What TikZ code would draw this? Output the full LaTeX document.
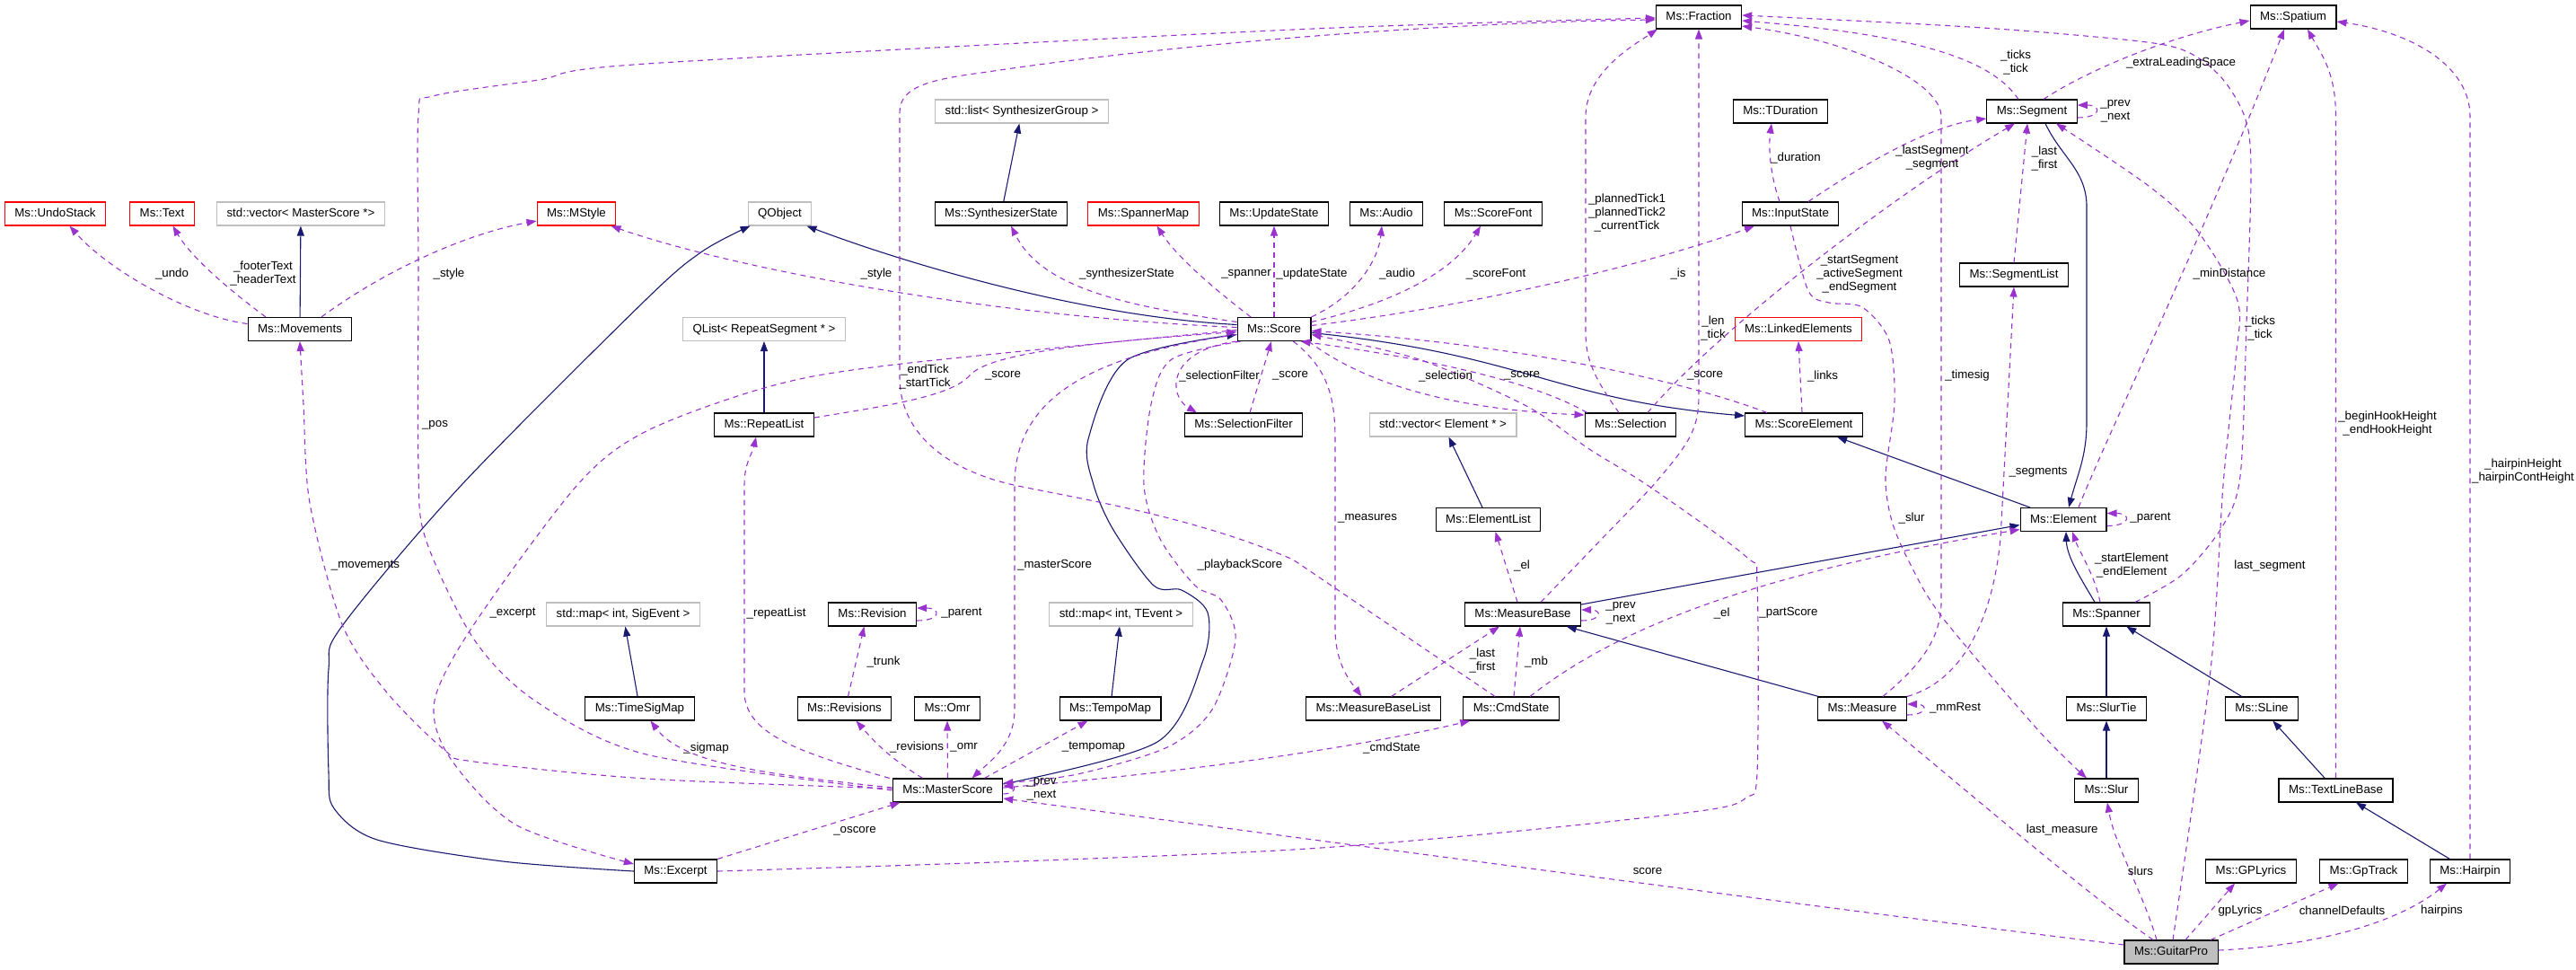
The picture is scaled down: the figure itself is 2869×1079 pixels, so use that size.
\documentclass[tikz,border=0pt]{standalone}
\usepackage{fontspec}
\setmainfont{Liberation Sans}
\usetikzlibrary{arrows.meta}
\definecolor{usecol}{HTML}{9A32CD}
\definecolor{inhcol}{HTML}{191970}
\definecolor{extcol}{HTML}{BFBFBF}
\tikzstyle{cls} = [rectangle, draw, line width=1.1pt, inner xsep=11pt, inner ysep=0pt, minimum height=26pt, text height=10pt, text depth=3pt, font=\fontsize{13.3}{15}\selectfont]
\tikzstyle{ext} = [cls, draw=extcol]
\tikzstyle{trunc} = [cls, draw=red]
\tikzstyle{uses} = [draw, usecol, line width=1.1pt, dash pattern=on 6pt off 5pt, -{Triangle[length=11pt,width=8pt]}]
\tikzstyle{inherit} = [draw, inhcol, line width=1.1pt, -{Triangle[length=11pt,width=8pt]}]
\tikzstyle{lbl} = [inner sep=0pt, align=center, font=\fontsize{13.3}{15}\selectfont]

\begin{document}
\begin{tikzpicture}[x=1pt, y=-1pt]
    \useasboundingbox (0,0) rectangle (2869,1079);
    \node[trunc] (undo) at (61.5,238) {Ms::UndoStack};
    \node[trunc] (text) at (180.5,238) {Ms::Text};
    \node[ext] (vecms) at (335,238) {std::vector< MasterScore *>};
    \node[trunc] (mstyle) at (642,238) {Ms::MStyle};
    \node[cls] (movements) at (334,366.5) {Ms::Movements};
    \node[ext] (qobject) at (868.5,238) {QObject};
    \node[ext] (synthlist) at (1138,124) {std::list< SynthesizerGroup >};
    \node[cls] (synthstate) at (1115,238) {Ms::SynthesizerState};
    \node[trunc] (spmap) at (1273.5,238) {Ms::SpannerMap};
    \node[cls] (updstate) at (1419,238) {Ms::UpdateState};
    \node[cls] (audio) at (1544,238) {Ms::Audio};
    \node[cls] (scorefont) at (1663,238) {Ms::ScoreFont};
    \node[cls] (fraction) at (1892,19) {Ms::Fraction};
    \node[cls] (tduration) at (1983,124) {Ms::TDuration};
    \node[cls] (inputstate) at (1994,238) {Ms::InputState};
    \node[cls] (segment) at (2263,124) {Ms::Segment};
    \node[cls] (spatium) at (2554,19) {Ms::Spatium};
    \node[cls] (seglist) at (2243,306) {Ms::SegmentList};
    \node[ext] (qlist) at (851,366.5) {QList< RepeatSegment * >};
    \node[cls] (score) at (1419,366.5) {Ms::Score};
    \node[trunc] (linked) at (2003,366.5) {Ms::LinkedElements};
    \node[cls] (repeatlist) at (851,473) {Ms::RepeatList};
    \node[cls] (selfilter) at (1385,473) {Ms::SelectionFilter};
    \node[ext] (vecel) at (1607,473) {std::vector< Element * >};
    \node[cls] (selection) at (1816,473) {Ms::Selection};
    \node[cls] (scoreel) at (2009,473) {Ms::ScoreElement};
    \node[cls] (elemlist) at (1657.5,578.5) {Ms::ElementList};
    \node[cls] (element) at (2298,578.5) {Ms::Element};
    \node[ext] (sigmapx) at (694,684) {std::map< int, SigEvent >};
    \node[cls] (revision) at (971.5,684) {Ms::Revision};
    \node[ext] (tempomapx) at (1248.5,684) {std::map< int, TEvent >};
    \node[cls] (measurebase) at (1696,684) {Ms::MeasureBase};
    \node[cls] (spanner) at (2346,684) {Ms::Spanner};
    \node[cls] (timesig) at (712.5,789) {Ms::TimeSigMap};
    \node[cls] (revisions) at (940.5,789) {Ms::Revisions};
    \node[cls] (omr) at (1055,789) {Ms::Omr};
    \node[cls] (tempomap) at (1236.5,789) {Ms::TempoMap};
    \node[cls] (mbl) at (1529.5,789) {Ms::MeasureBaseList};
    \node[cls] (cmdstate) at (1683,789) {Ms::CmdState};
    \node[cls] (measure) at (2074,789) {Ms::Measure};
    \node[cls] (slurtie) at (2346,789) {Ms::SlurTie};
    \node[cls] (sline) at (2519,789) {Ms::SLine};
    \node[cls] (masterscore) at (1055.5,880) {Ms::MasterScore};
    \node[cls] (slur) at (2346,880) {Ms::Slur};
    \node[cls] (textline) at (2601.5,880) {Ms::TextLineBase};
    \node[cls] (excerpt) at (752.5,970) {Ms::Excerpt};
    \node[cls] (gplyrics) at (2507,970) {Ms::GPLyrics};
    \node[cls] (gptrack) at (2632.5,970) {Ms::GpTrack};
    \node[cls] (hairpin) at (2751,970) {Ms::Hairpin};
    \node[cls, fill=extcol] (guitarpro) at (2418,1060) {Ms::GuitarPro};

    \path[inherit] (movements) -- (vecms);
    \path[inherit] (synthstate) -- (synthlist);
    \path[inherit] (timesig) -- (sigmapx);
    \path[inherit] (tempomap) -- (tempomapx);
    \path[inherit] (repeatlist) -- (qlist);
    \path[inherit] (elemlist) -- (vecel);
    \path[inherit] (slurtie) -- (spanner);
    \path[inherit] (slur) -- (slurtie);
    \path[inherit] (sline) -- (spanner);
    \path[inherit] (textline) -- (sline);
    \path[inherit] (hairpin) -- (textline);
    \path[inherit] (measure) -- (measurebase);
    \path[inherit] ([yshift=11pt]measurebase.east) -- ([yshift=-6pt]element.west);
    \path[inherit] (element) -- (scoreel);
    \path[inherit] ([yshift=-4pt]score.east) .. controls (1700,395) and (1730,445) .. ([yshift=10pt]scoreel.west);
    \path[inherit] ([xshift=15pt]segment.south) to[out=-65,in=90] (2324,230) -- (2324,470) to[out=-90,in=75] ([xshift=6pt]element.north);
    \path[inherit] ([xshift=-13pt]spanner.north) .. controls (2318,645) and (2302,620) .. ([xshift=3pt]element.south);
    \path[inherit] ([yshift=5pt]score.west) .. controls (1200,352) and (1000,290) .. ([xshift=-6pt]qobject.south east);
    \path[inherit] plot[smooth] coordinates {([yshift=7pt]masterscore.east) (1289,826) (1340,735) (1345,682) (1316,657) (1285,652) (1240,590) (1218,540) (1212,489) (1255,401) ([yshift=-6pt]score.west)};
    \path[inherit] plot[smooth] coordinates {(excerpt.west) (560,959) (420,935) (372,900) (366,860) (366,745) (381,697) (514,540) (720,333) (782,280) ([xshift=3pt]qobject.south west)};

    \path[uses] ([yshift=6pt]movements.west) .. controls (210,352) and (120,300) .. ([xshift=16pt]undo.south);
    \path[uses] ([xshift=-38pt]movements.north) .. controls (265,330) and (215,290) .. ([xshift=12pt]text.south);
    \path[uses] ([xshift=24pt]movements.north) .. controls (430,300) and (520,260) .. ([yshift=-8pt]mstyle.west);
    \path[uses] ([yshift=2pt]score.west) .. controls (1100,352) and (820,300) .. ([xshift=-6pt]mstyle.south east);
    \path[uses] plot[smooth] coordinates {([yshift=2pt]masterscore.west) (720,867) (528,848) (495,835) (430,770) (381,695) (345,560) (338,450) (movements.south)};
    \path[uses] plot[smooth] coordinates {(masterscore.west) (720,840) (597,781) (528,712) (474,600) (466,520) (466,300) (466,128) (482,107) (600,89) (720,71) (1440,33) ([yshift=-1pt]fraction.west)};
    \path[uses] plot[smooth] coordinates {([yshift=-1pt]score.west) (996,406) (858,430) (720,480) (643,540) (528,695) (484,780) (500,842) (574,918) ([yshift=8pt]excerpt.west)};
    \path[uses] ([xshift=-3pt]masterscore.north west) .. controls (900,840) and (829,820) .. (829,770) -- (829,540) .. controls (829,515) and (838,505) .. ([xshift=-9pt]repeatlist.south);
    \path[uses] ([yshift=3pt]masterscore.west) .. controls (850,862) and (760,850) .. ([xshift=12pt]timesig.south);
    \path[uses] ([xshift=-28pt]masterscore.north) to[out=148,in=-49] ([xshift=13pt]revisions.south);
    \path[uses] (masterscore.north) -- (omr.south);
    \path[uses] ([xshift=41pt]masterscore.north) -- ([xshift=-25pt]tempomap.south);
    \path[uses] ([yshift=-6pt]score.west) .. controls (1220,395) and (1130,440) .. (1130,540) -- (1130,790) .. controls (1130,830) and (1100,850) .. ([xshift=27pt]masterscore.north);
    \path[uses] plot[smooth] coordinates {([xshift=4pt]score.south west) (1305,400) (1282,450) (1274,540) (1292,600) (1331,652) (1360,668) (1376,712) (1350,790) (1300,832) (1200,862) ([yshift=8pt]masterscore.east)};
    \path[uses] ([yshift=3pt]masterscore.east) .. controls (1300,862) and (1500,835) .. ([xshift=8pt]cmdstate.south west);
    \path[uses] ([yshift=8pt]guitarpro.west) .. controls (2100,1020) and (1500,940) .. ([yshift=-9pt]masterscore.east);
    \path[uses] (excerpt.north east) -- ([xshift=-53pt]masterscore.south);
    \path[uses] plot[smooth] coordinates {(excerpt.east) (1107,960) (1440,946) (1693,925) (1900,902) (1945,888) (1957,860) (1957,650) (1945,620) (1839,543) (1770,500) (1700,452) (1580,400) ([yshift=-6pt]score.east)};
    \path[uses] ([xshift=-20pt]score.south east) .. controls (1478,410) and (1487,440) .. (1487,490) -- (1487,700) .. controls (1487,740) and (1505,760) .. ([xshift=-13pt]mbl.north);
    \path[uses] (score.south west) .. controls (1300,390) and (1300,440) .. ([xshift=-52pt]selfilter.north);
    \path[uses] ([xshift=7pt]selfilter.north) -- ([xshift=-3pt]score.south);
    \path[uses] ([yshift=8pt]repeatlist.east) .. controls (1000,450) and (1060,440) .. (1080,418) .. controls (1100,395) and (1200,382) .. ([yshift=-3pt]score.west);
    \path[uses] ([xshift=-18pt]cmdstate.north) -- (1440,623) .. controls (1330,575) and (1200,555) .. (1129,540) .. controls (1050,522) and (1002,480) .. (1002,420) -- (1002,125) .. controls (1002,95) and (1040,88) .. (1100,80) .. controls (1300,50) and (1600,25) .. ([yshift=-3pt]fraction.west);
    \path[uses] ([xshift=20pt]measurebase.north) -- (1839,543) .. controls (1880,495) and (1892,480) .. (1892,440) -- (fraction.south);
    \path[uses] ([xshift=-13pt]selection.north) .. controls (1775,420) and (1766,400) .. (1766,370) -- (1766,130) .. controls (1766,80) and (1820,50) .. ([xshift=2pt]fraction.south west);
    \path[uses] ([xshift=-3pt]score.south east) .. controls (1510,420) and (1600,455) .. ([yshift=11pt]selection.west);
    \path[uses] ([xshift=3pt]selection.north west) .. controls (1700,420) and (1560,395) .. ([xshift=-12pt]score.south east);
    \path[uses] ([xshift=-41pt]scoreel.north) .. controls (1850,415) and (1650,380) .. ([yshift=-2pt]score.east);
    \path[uses] ([xshift=-2pt]scoreel.north) -- (linked.south);
    \path[uses] ([yshift=4pt]score.east) .. controls (1650,340) and (1850,290) .. ([xshift=-40pt]inputstate.south);
    \path[uses] ([yshift=8pt]score.east) .. controls (1560,335) and (1620,300) .. ([xshift=-14pt]scorefont.south);
    \path[uses] (score.north east) .. controls (1510,330) and (1535,290) .. ([xshift=-5pt]audio.south);
    \path[uses] (score.north) -- (updstate.south);
    \path[uses] ([xshift=-26pt]score.north) .. controls (1350,320) and (1310,285) .. ([xshift=15pt]spmap.south);
    \path[uses] ([yshift=8pt]score.west) .. controls (1250,340) and (1160,320) .. ([xshift=11pt]synthstate.south);
    \path[uses] ([xshift=-12pt]inputstate.north) .. controls (1970,190) and (1970,160) .. ([xshift=-10pt]tduration.south);
    \path[uses] ([xshift=20pt]inputstate.north) .. controls (2080,180) and (2150,140) .. ([yshift=-8pt]segment.west);
    \path[uses] ([xshift=19pt]selection.north) .. controls (1920,360) and (2120,210) .. ([xshift=-19pt]segment.south);
    \path[uses] plot[smooth] coordinates {(inputstate.south) (2014,324) (2037,337) (2074,342) (2104,379) (2110,448) (2100,530) (2107,580) (2127,627) (2163,687) (2270,813) ([xshift=-22pt]slur.north)};
    \path[uses] ([xshift=23pt]measure.north) .. controls (2140,740) and (2162,710) .. (2162,670) -- (2162,130) .. controls (2162,90) and (2060,45) .. ([yshift=-10pt]fraction.east);
    \path[uses] (measure.north east) .. controls (2180,760) and (2218,700) .. (2228,600) -- (seglist.south);
    \path[uses] (seglist.north) -- ([xshift=-5pt]segment.south);
    \path[uses] ([xshift=-15pt]segment.north) .. controls (2220,70) and (2150,40) .. ([yshift=-4pt]fraction.east);
    \path[uses] ([xshift=13pt]segment.north) .. controls (2330,75) and (2420,40) .. ([yshift=-4pt]spatium.west);
    \path[uses] ([yshift=-7pt]segment.east) to[out=0,in=0,looseness=5] ([yshift=7pt]segment.east);
    \path[uses] ([xshift=17pt]element.north) .. controls (2340,500) and (2460,250) .. ([xshift=-10pt]spatium.south);
    \path[uses] plot[smooth] coordinates {([xshift=32pt]spanner.north) (2430,640) (2474,588) (2495,530) (2502,360) (2507,190) (2500,130) (2470,82) (2420,52) (2300,38) (2160,28) ([yshift=2pt]fraction.east)};
    \path[uses] plot[smooth] coordinates {([xshift=2pt]guitarpro.north) (2462,746) (2476,540) (2490,400) (2492,335) (2448,258) (2393,207) ([xshift=27pt]segment.south)};
    \path[uses] (textline.north) -- (2601.5,130) .. controls (2601.5,80) and (2585,60) .. ([xshift=16pt]spatium.south);
    \path[uses] (hairpin.north) -- (2751,130) .. controls (2751,70) and (2680,35) .. ([yshift=-5pt]spatium.east);
    \path[uses] ([xshift=-7pt]spanner.north) .. controls (2333,640) and (2316,615) .. ([xshift=10pt]element.south);
    \path[uses] ([yshift=-7pt]element.east) to[out=0,in=0,looseness=5] ([yshift=7pt]element.east);
    \path[uses] ([xshift=21pt]cmdstate.north) .. controls (1800,700) and (1950,640) .. ([yshift=-11pt]element.west);
    \path[uses] ([xshift=-6pt]measurebase.north) -- ([xshift=8pt]elemlist.south);
    \path[uses] ([yshift=-7pt]measurebase.east) to[out=0,in=0,looseness=5] ([yshift=5pt]measurebase.east);
    \path[uses] ([xshift=20pt]mbl.north) -- ([xshift=-26pt]measurebase.south);
    \path[uses] ([xshift=3pt]cmdstate.north) -- ([xshift=-3pt]measurebase.south);
    \path[uses] ([yshift=-7pt]measure.east) to[out=0,in=0,looseness=5] ([yshift=5pt]measure.east);
    \path[uses] ([xshift=-20pt]guitarpro.north) .. controls (2330,1000) and (2190,880) .. ([xshift=22pt]measure.south);
    \path[uses] ([xshift=-16pt]guitarpro.north) .. controls (2385,990) and (2355,940) .. ([xshift=1pt]slur.south);
    \path[uses] ([xshift=16pt]guitarpro.north) -- ([xshift=-18pt]gplyrics.south);
    \path[uses] ([xshift=44pt]guitarpro.north) -- ([xshift=-28pt]gptrack.south);
    \path[uses] ([yshift=2pt]guitarpro.east) .. controls (2600,1052) and (2680,1020) .. ([xshift=-26pt]hairpin.south);
    \path[uses] ([yshift=-4pt]masterscore.east) to[out=0,in=0,looseness=4] ([yshift=5pt]masterscore.east);
    \path[uses] ([yshift=-7pt]revision.east) to[out=0,in=0,looseness=5] ([yshift=7pt]revision.east);
    \path[uses] ([xshift=4pt]revisions.north) -- ([xshift=-9pt]revision.south);

    \node[lbl] (lundo) at (191.5,305) {\_undo};
    \node[lbl] (lfooter) at (293,305) {\_footerText\\\_headerText};
    \node[lbl] (lstyle) at (500,305) {\_style};
    \node[lbl] (lstyle2) at (976,305) {\_style};
    \node[lbl] (lsynth) at (1255,305) {\_synthesizerState};
    \node[lbl] (lspanner) at (1388,305) {\_spanner};
    \node[lbl] (lupd) at (1461,305) {\_updateState};
    \node[lbl] (laudio) at (1556,305) {\_audio};
    \node[lbl] (lfont) at (1666,305) {\_scoreFont};
    \node[lbl] (lplanned) at (1812,237) {\_plannedTick1\\\_plannedTick2\\\_currentTick};
    \node[lbl] (lis) at (1869,305) {\_is};
    \node[lbl] (lduration) at (2000,176) {\_duration};
    \node[lbl] (llastseg) at (2152,176) {\_lastSegment\\\_segment};
    \node[lbl] (lticks) at (2245,70) {\_ticks\\\_tick};
    \node[lbl] (lextra) at (2429,70) {\_extraLeadingSpace};
    \node[lbl] (lsegloop) at (2356,124) {\_prev\\\_next};
    \node[lbl] (llastfirst) at (2277,176) {\_last\\\_first};
    \node[lbl] (lstartseg) at (2071,305) {\_startSegment\\\_activeSegment\\\_endSegment};
    \node[lbl] (lmindist) at (2483,305) {\_minDistance};
    \node[lbl] (llen) at (1908,365) {\_len\\\_tick};
    \node[lbl] (llinks) at (2030,418.5) {\_links};
    \node[lbl] (lscore1) at (1117,418.5) {\_score};
    \node[lbl] (lendtick) at (1030,419) {\_endTick\\\_startTick};
    \node[lbl] (lselfilter) at (1358,418.5) {\_selectionFilter};
    \node[lbl] (lscore2) at (1437,418.5) {\_score};
    \node[lbl] (lselection) at (1610,418.5) {\_selection};
    \node[lbl] (lscore3) at (1695,418.5) {\_score};
    \node[lbl] (lscore4) at (1899,418.5) {\_score};
    \node[lbl] (lticks2) at (2517,365) {\_ticks\\\_tick};
    \node[lbl] (lhook) at (2659,472) {\_beginHookHeight\\\_endHookHeight};
    \node[lbl] (lhairpinh) at (2810,525) {\_hairpinHeight\\\_hairpinContHeight};
    \node[lbl] (ltimesig) at (2191,418.5) {\_timesig};
    \node[lbl] (lsegments) at (2270,526) {\_segments};
    \node[lbl] (lpos) at (484.5,473) {\_pos};
    \node[lbl] (lmeasures) at (1523,577) {\_measures};
    \node[lbl] (lslur) at (2129,577) {\_slur};
    \node[lbl] (lparent) at (2395,577) {\_parent};
    \node[lbl] (lel) at (1695,629.5) {\_el};
    \node[lbl] (lmovements) at (407,630) {\_movements};
    \node[lbl] (lmaster) at (1174.6,629.5) {\_masterScore};
    \node[lbl] (lplayback) at (1381,629.5) {\_playbackScore};
    \node[lbl] (llastsegment) at (2528,630) {last\_segment};
    \node[lbl] (lstartel) at (2374,629.5) {\_startElement\\\_endElement};
    \node[lbl] (lmbloop) at (1805,683) {\_prev\\\_next};
    \node[lbl] (lexcerpt) at (571,683) {\_excerpt};
    \node[lbl] (lrepeat) at (864.6,683) {\_repeatList};
    \node[lbl] (lrevparent) at (1071,683) {\_parent};
    \node[lbl] (lel2) at (1917.6,682.6) {\_el};
    \node[lbl] (lpartscore) at (1992,682.6) {\_partScore};
    \node[lbl] (llastfirst2) at (1651,735) {\_last\\\_first};
    \node[lbl] (lmb) at (1711,737) {\_mb};
    \node[lbl] (ltrunk) at (984,737) {\_trunk};
    \node[lbl] (lmmrest) at (2177.5,788) {\_mmRest};
    \node[lbl] (lsigmap) at (786.6,832.7) {\_sigmap};
    \node[lbl] (lrevisions) at (1021,832) {\_revisions};
    \node[lbl] (lomr) at (1073.6,832) {\_omr};
    \node[lbl] (ltempomap) at (1218,832) {\_tempomap};
    \node[lbl] (lcmdstate) at (1550,832.6) {\_cmdState};
    \node[lbl] (lmsloop) at (1160,879) {\_prev\\\_next};
    \node[lbl] (llastmeasure) at (2296.7,924) {last\_measure};
    \node[lbl] (loscore) at (952,925) {\_oscore};
    \node[lbl] (lscore5) at (1835,969.6) {score};
    \node[lbl] (lslurs) at (2384,969.6) {slurs};
    \node[lbl] (lgplyrics) at (2495,1014) {gpLyrics};
    \node[lbl] (lchannel) at (2608.5,1014) {channelDefaults};
    \node[lbl] (lhairpins) at (2719.5,1014) {hairpins};
\end{tikzpicture}
\end{document}
